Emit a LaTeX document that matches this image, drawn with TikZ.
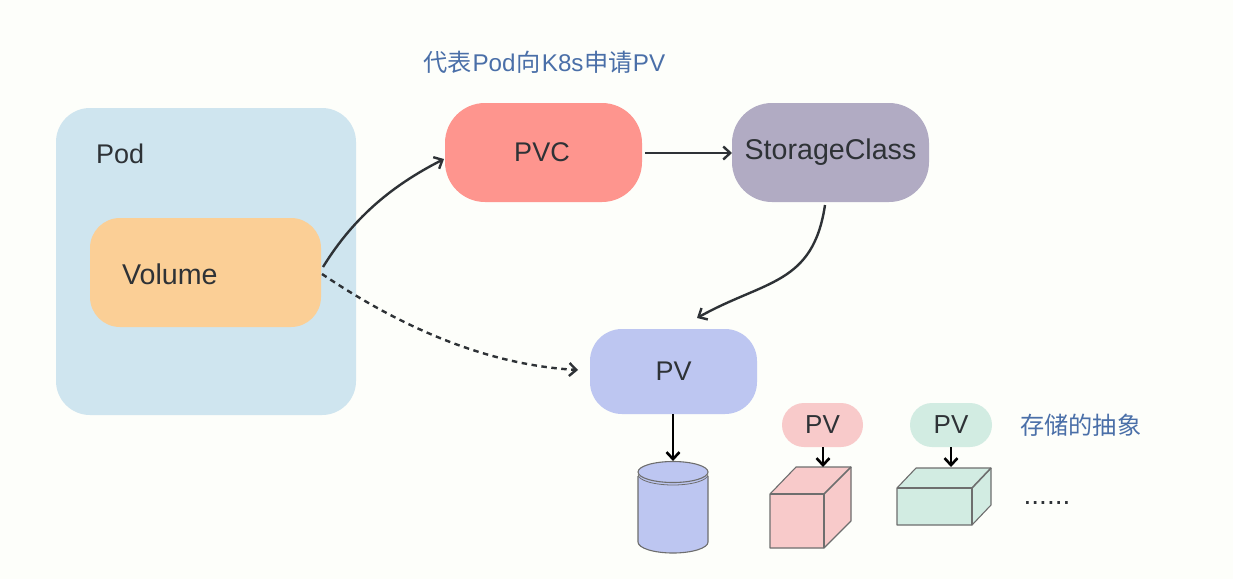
\documentclass[tikz,border=0pt]{standalone}
\usepackage{fontspec}
\setmainfont{Liberation Sans}
\newfontfamily\cjk{Noto Sans CJK SC}
\usetikzlibrary{arrows.meta}
\definecolor{bgc}{HTML}{FDFEFA}
\definecolor{podc}{HTML}{CFE5EF}
\definecolor{volc}{HTML}{FBCF96}
\definecolor{pvcc}{HTML}{FE958E}
\definecolor{scc}{HTML}{B1ABC3}
\definecolor{pvc}{HTML}{BDC6F1}
\definecolor{pinkc}{HTML}{F8CACA}
\definecolor{greenc}{HTML}{D2ECE2}
\definecolor{inkc}{HTML}{2E3236}
\definecolor{bluec}{HTML}{4A6FA8}
\definecolor{edgec}{HTML}{6E6E6E}
\tikzset{
  box/.style={draw=none,rectangle,inner sep=0pt,text=inkc,font=\fontsize{27}{30}\selectfont},
  bigbox/.style={box,font=\fontsize{28.6}{30}\selectfont},
  smallbox/.style={box,font=\fontsize{26}{30}\selectfont},
  conn/.style={draw=inkc,line width=2.4pt,-{Straight Barb[length=7pt,width=13pt,line width=2.4pt]}},
  connb/.style={draw=black,line width=2.6pt,-{Straight Barb[length=7pt,width=13pt,line width=2.6pt]}},
  dashconn/.style={conn,dash pattern=on 5.5pt off 4.5pt},
  solid3d/.style={draw=edgec,line width=1.1pt,line join=round},
  note/.style={text=bluec,inner sep=0pt,font=\fontsize{24.2}{28}\selectfont},
}
\begin{document}
\begin{tikzpicture}[x=1pt,y=-1pt]
\useasboundingbox[fill=bgc] (0,0) rectangle (1233,579);
% containers and boxes
\node[box,fill=podc,minimum width=300pt,minimum height=307pt,rounded corners=34pt] (pod) at (206,261.5) {};
\node[box,anchor=west] (podl) at (96,154) {Pod};
\node[box,fill=volc,minimum width=231pt,minimum height=109pt,rounded corners=30pt] (vol) at (205.5,272.5) {};
\node[bigbox,anchor=west] (voll) at (122,274) {Volume};
\node[box,fill=pvcc,minimum width=197pt,minimum height=99pt,rounded corners=40pt] (pvcn) at (543.5,152.5) {\raisebox{-1pt}{\kern-3pt PVC}};
\node[bigbox,fill=scc,minimum width=197pt,minimum height=99pt,rounded corners=40pt] (sc) at (830.5,152.5) {\raisebox{-2pt}{StorageClass}};
\node[box,fill=pvc,minimum width=167pt,minimum height=85pt,rounded corners=32pt] (pv) at (673.5,371.5) {\raisebox{-1pt}{PV}};
\node[smallbox,fill=pinkc,minimum width=81pt,minimum height=44pt,rounded corners=22pt] (pva) at (822.5,425) {PV};
\node[smallbox,fill=greenc,minimum width=82pt,minimum height=44pt,rounded corners=22pt] (pvb) at (951,425) {PV};
% notes
\node[note,anchor=west] (n1) at (423,62) {{\cjk 代表}\kern1pt Pod\kern1pt{\cjk 向}\kern1pt K8s\kern1pt{\cjk 申请}PV};
\node[note,anchor=west] (n2) at (1020,425) {\cjk 存储的抽象};
\node[text=inkc,inner sep=0pt,font=\fontsize{28}{30}\selectfont] (dots) at (1047,503) {......};
% cylinder
\fill[pvc] (638,476) -- (638,542) arc[start angle=180,end angle=0,x radius=35,y radius=11] -- (708,476) -- cycle;
\draw[solid3d] (638,476) -- (638,542) arc[start angle=180,end angle=0,x radius=35,y radius=11] -- (708,476);
\draw[solid3d,fill=pvc] (673,472) ellipse[x radius=35,y radius=10.5];
\draw[edgec,line width=.8pt] (638,474.5) arc[start angle=180,end angle=0,x radius=35,y radius=10.5];
\coordinate (cyltop) at (673,461);
% pink cube
\draw[solid3d,fill=pinkc] (770,494) -- (796,467) -- (851,467) -- (851,521) -- (824,548) -- (770,548) -- cycle;
\draw[solid3d,line width=1.6pt] (770,494) -- (824,494) -- (824,548) (824,494) -- (851,467);
\coordinate (cubea) at (823,467);
% green cube
\draw[solid3d,fill=greenc] (897,488) -- (916,468) -- (991,468) -- (991,505) -- (972,525) -- (897,525) -- cycle;
\draw[solid3d,line width=1.6pt] (897,488) -- (972,488) -- (972,525) (972,488) -- (991,468);
\coordinate (cubeb) at (951,467);
% connectors
\coordinate (vs) at (323,267);
\coordinate (vd) at (322,274);
\coordinate (pt) at (444,159);
\coordinate (ps) at (645,153);
\coordinate (st) at (732,153);
\coordinate (ss) at (825,205);
\coordinate (pe) at (697,318);
\coordinate (pd) at (578,370);
\draw[conn] (vs) .. controls (355,215) and (395,184) .. (pt);
\draw[dashconn] (vd) .. controls (405,330) and (490,365) .. (pd);
\draw[conn] (ps) -- (st);
\draw[conn] (ss) .. controls (813,285) and (765,280) .. (pe);
\draw[connb] (pv.south -| cyltop) -- (cyltop);
\draw[connb] (pva.south -| cubea) -- (cubea);
\draw[connb] (pvb.south -| cubeb) -- (cubeb);
\end{tikzpicture}
\end{document}
